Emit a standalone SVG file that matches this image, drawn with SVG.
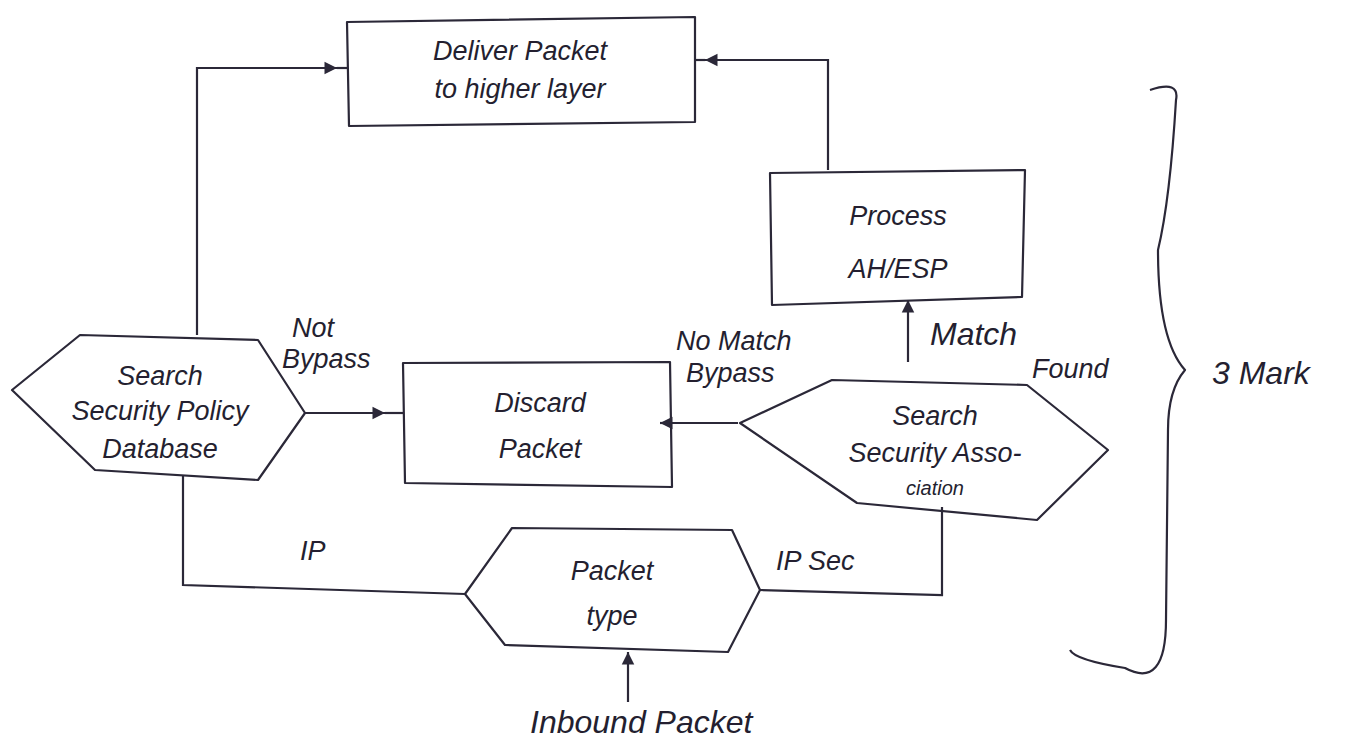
<svg xmlns="http://www.w3.org/2000/svg" width="1365" height="750" viewBox="0 0 1365 750">
<style>
.shape{fill:none;stroke:#2b2838;stroke-width:2.2;stroke-linejoin:round}
.edge{fill:none;stroke:#2b2838;stroke-width:2.2}
text{font-family:"Liberation Sans",Arial,sans-serif;fill:#241f30;font-style:italic}
.node text{font-size:27px;text-anchor:middle}
.lbl{font-size:27px}
</style>
<defs>
<marker id="ah" viewBox="0 0 12 12" refX="11" refY="6" markerWidth="15" markerHeight="15" markerUnits="userSpaceOnUse" orient="auto">
<path d="M1,1 L11,6 L1,11 Z" fill="#2b2838"/>
</marker>
</defs>
<rect width="1365" height="750" fill="#ffffff"/>

<g id="connectors">
<path class="edge" d="M197,335 L197,68 L337,68" marker-end="url(#ah)"/>
<path class="edge" d="M337,68 L347,68"/>
<path class="edge" d="M828,170 L828,60 L705,60" marker-end="url(#ah)"/>
<path class="edge" d="M705,60 L695,60"/>
<path class="edge" d="M908,362 L908,300" marker-end="url(#ah)"/>
<path class="edge" d="M738,423 L660,423" marker-end="url(#ah)"/>
<path class="edge" d="M660,423 L671,423"/>
<path class="edge" d="M305,413 L385,413" marker-end="url(#ah)"/>
<path class="edge" d="M385,413 L404,413"/>
<path class="edge" d="M183,476 L183,585 L465,594"/>
<path class="edge" d="M760,590 L942,595 L942,507"/>
<path class="edge" d="M628,702 L628,652" marker-end="url(#ah)"/>
</g>

<g id="deliver" class="node">
<path class="shape" d="M347,22 L695,17 L695,122 L349,126 Z"/>
<text x="520" y="60">Deliver Packet</text>
<text x="520" y="98">to higher layer</text>
</g>

<g id="process" class="node">
<path class="shape" d="M770,173 L1025,170 L1022,297 L772,305 Z"/>
<text x="898" y="225">Process</text>
<text x="898" y="278">AH/ESP</text>
</g>

<g id="spd" class="node">
<path class="shape" d="M12,390 L80,335 L258,340 L305,413 L258,480 L95,470 Z"/>
<text x="160" y="385">Search</text>
<text x="160" y="420">Security Policy</text>
<text x="160" y="458">Database</text>
</g>

<g id="discard" class="node">
<path class="shape" d="M403,363 L670,362 L672,487 L405,483 Z"/>
<text x="540" y="412">Discard</text>
<text x="540" y="458">Packet</text>
</g>

<g id="sa" class="node">
<path class="shape" d="M740,423 L832,380 L1027,385 L1108,450 L1037,520 L857,503 Z"/>
<text x="935" y="425">Search</text>
<text x="935" y="462">Security Asso-</text>
<text x="935" y="495" style="font-size:20px">ciation</text>
</g>

<g id="ptype" class="node">
<path class="shape" d="M465,594 L512,528 L732,530 L760,590 L728,652 L505,645 Z"/>
<text x="612" y="580">Packet</text>
<text x="612" y="625">type</text>
</g>

<g id="labels">
<text class="lbl" x="292" y="337">Not</text>
<text class="lbl" x="282" y="368">Bypass</text>
<text class="lbl" x="676" y="350">No Match</text>
<text class="lbl" x="686" y="382">Bypass</text>
<text class="lbl" x="930" y="345" style="font-size:32px">Match</text>
<text class="lbl" x="1032" y="378">Found</text>
<text class="lbl" x="300" y="560">IP</text>
<text class="lbl" x="776" y="570">IP Sec</text>
<text class="lbl" x="530" y="733" style="font-size:32px">Inbound Packet</text>
<text class="lbl" x="1212" y="384" style="font-size:32px">3 Mark</text>
</g>

<g id="brace">
<path class="shape" d="M1150,90 Q1180,80 1176,100 Q1170,200 1158,250 Q1158,340 1185,370 Q1168,390 1168,430 L1166,620 Q1166,690 1125,668 Q1075,660 1070,650"/>
</g>
</svg>
